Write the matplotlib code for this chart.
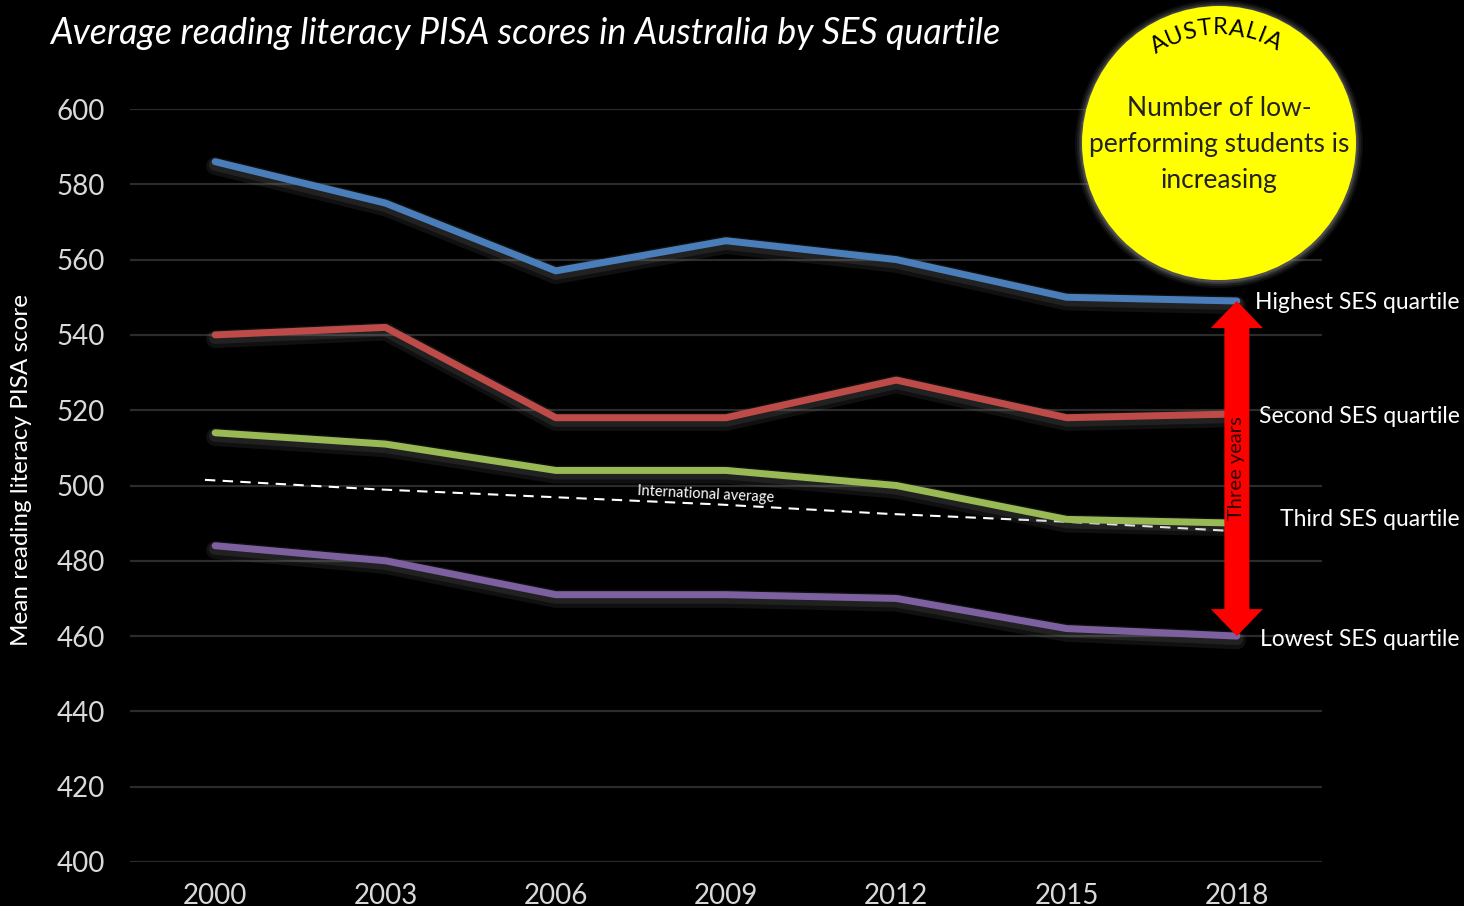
import numpy as np
import matplotlib
matplotlib.use("Agg")
import matplotlib.pyplot as plt
import matplotlib.patheffects as pe
import matplotlib.transforms as mtransforms
from matplotlib.patches import Circle, Polygon

# PISA reading scores by SES quartile
years = ["2000", "2003", "2006", "2009", "2012", "2015", "2018"]
highest = [586, 575, 557, 565, 560, 550, 549]
second = [540, 542, 518, 518, 528, 518, 519]
third = [514, 511, 504, 504, 500, 491, 490]
lowest = [484, 480, 471, 471, 470, 462, 460]
intl_avg = [501.5, 499, 497, 495, 492.5, 490.5, 488]

series_names = ["Highest SES quartile", "Second SES quartile",
                "Third SES quartile", "Lowest SES quartile"]
series_colors = ["#4A7EBB", "#BE4B48", "#98B954", "#7D60A0"]

FONT = "Lato"

fig = plt.figure(figsize=(14.64, 9.06), dpi=100, facecolor="black")
ax = fig.add_axes([130 / 1464, 44 / 906, 1192 / 1464, 753 / 906])
ax.set_facecolor("black")

x = np.arange(len(years))

# gridlines
ax.set_ylim(400, 600)
ax.set_xlim(-0.5, len(years) - 0.5)
ax.set_yticks(np.arange(400, 601, 20))
ax.set_xticks(x)
ax.set_xticklabels(years)
ax.grid(axis="y", color="#2b2b2b", linewidth=1.6)
ax.set_axisbelow(True)
for s in ax.spines.values():
    s.set_visible(False)
ax.tick_params(length=0, labelsize=20, colors="#d9d9d9")
ax.tick_params(axis="y", pad=18)
ax.tick_params(axis="x", pad=15)
for lbl in ax.get_xticklabels() + ax.get_yticklabels():
    lbl.set_fontfamily(FONT)

# international average (dashed)
ax.plot(x - 0.06, intl_avg, color="white", lw=1.5, ls=(0, (5, 3.5)), zorder=3)
ax.text(2.88, 497.6, "International average", color="white", fontsize=10.5,
        fontfamily=FONT, rotation=-2.9, ha="center", va="center", zorder=4)

# quartile lines with a soft shadow
glow = [pe.SimpleLineShadow(offset=(0, -3), shadow_color="#888888", alpha=0.12, linewidth=13),
        pe.SimpleLineShadow(offset=(0, -2), shadow_color="#888888", alpha=0.15, linewidth=9),
        pe.Normal()]
for vals, col in zip([highest, second, third, lowest], series_colors):
    ax.plot(x, vals, color=col, lw=5, solid_capstyle="round", solid_joinstyle="round",
            path_effects=glow, zorder=5)

# right-hand labels
blend = mtransforms.blended_transform_factory(fig.transFigure, ax.transData)
label_y = [highest[-1] - 0.5, second[-1] - 0.8, third[-1] + 1, lowest[-1] - 0.8]
for name, yv in zip(series_names, label_y):
    ax.text(0.997, yv, name, transform=blend, ha="right", va="center",
            color="white", fontsize=16.5, fontfamily=FONT, clip_on=False)

# red double arrow between highest and lowest in 2018
top = ax.transData.transform((x[-1], highest[-1]))
bot = ax.transData.transform((x[-1], lowest[-1]))
cx = top[0]
sw, hw, hl = 12.5, 26, 27
verts = [(cx, top[1]), (cx + hw, top[1] - hl), (cx + sw, top[1] - hl),
         (cx + sw, bot[1] + hl), (cx + hw, bot[1] + hl), (cx, bot[1]),
         (cx - hw, bot[1] + hl), (cx - sw, bot[1] + hl), (cx - sw, top[1] - hl),
         (cx - hw, top[1] - hl)]
arrow = Polygon(verts, closed=True, facecolor="#FF0000", edgecolor="none",
                transform=mtransforms.IdentityTransform(), zorder=6)
fig.add_artist(arrow)
fig.text(cx / fig.bbox.width, (top[1] + bot[1]) / 2 / fig.bbox.height, "Three years",
         rotation=90, ha="center", va="center", color="#2a0000", fontsize=14.5,
         fontfamily=FONT, zorder=7)

# yellow callout circle
ccx, ccy, r = 12.19, 9.06 - 1.43, 1.37
for extra, a in [(0.07, 0.1), (0.05, 0.15), (0.03, 0.22), (0.015, 0.3)]:
    fig.add_artist(Circle((ccx, ccy - 0.01), r + extra, transform=fig.dpi_scale_trans,
                          facecolor="#888888", edgecolor="none", alpha=a, zorder=8))
fig.add_artist(Circle((ccx, ccy), r, transform=fig.dpi_scale_trans,
                      facecolor="#FFFF00", edgecolor="none", zorder=9))
fig.text(ccx, ccy - 0.02, "Number of low-\nperforming students is\nincreasing",
         transform=fig.dpi_scale_trans, ha="center", va="center", color="#222222",
         fontsize=19, fontfamily=FONT, linespacing=1.55, zorder=10)

# curved "AUSTRALIA", letters spaced by rough glyph width
word = "AUSTRALIA"
widths = {"A": 0.68, "U": 0.7, "S": 0.56, "T": 0.6, "R": 0.62, "L": 0.52, "I": 0.32}
w = np.array([widths[c] for c in word])
pos = np.cumsum(w) - w / 2
pos = pos - pos.mean()
angles = pos / pos.max() * 28
R = 1.15
for ch, ang in zip(word, angles):
    t = np.radians(ang)
    fig.text(ccx + R * np.sin(t), ccy + R * np.cos(t), ch, transform=fig.dpi_scale_trans,
             ha="center", va="center", rotation=-ang, fontsize=17, fontfamily=FONT,
             color="black", zorder=10)

# title and axis label
fig.text(50 / 1464, 1 - 33 / 906, "Average reading literacy PISA scores in Australia by SES quartile",
         ha="left", va="center", color="white", fontsize=25.8, fontstyle="italic",
         fontfamily=FONT)
fig.text(22 / 1464, 1 - 470 / 906, "Mean reading literacy PISA score", rotation=90,
         ha="center", va="center", color="white", fontsize=17.5, fontfamily=FONT)

fig.savefig("out.png", dpi=100, facecolor="black")
